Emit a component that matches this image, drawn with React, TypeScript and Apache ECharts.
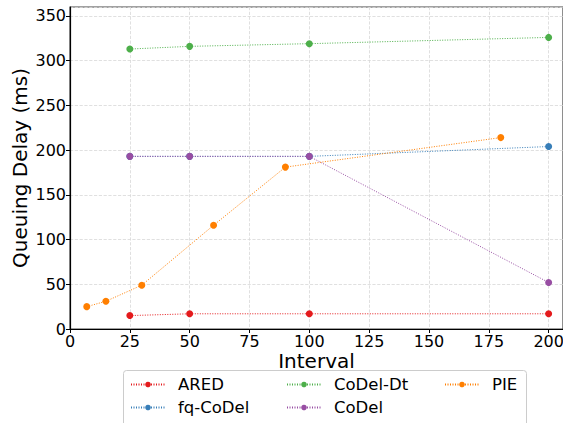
import React, { useEffect, useRef } from "react";
import * as echarts from "echarts";

const aredX = [25, 50, 100, 200];
const aredY = [15, 17, 17, 17];
const fqX = [25, 50, 100, 200];
const fqY = [193, 193, 193, 204];
const dtX = [25, 50, 100, 200];
const dtY = [313, 316, 319, 326];
const codelX = [25, 50, 100, 200];
const codelY = [193, 193, 193, 52];
const pieX = [7, 15, 30, 60, 90, 180];
const pieY = [25, 31, 49, 116, 181, 214];

const names = ["ARED", "fq-CoDel", "CoDel-Dt", "CoDel", "PIE"];
const colors = ["#e41a1c", "#377eb8", "#4daf4a", "#984ea3", "#ff7f00"];
const xs = [aredX, fqX, dtX, codelX, pieX];
const ys = [aredY, fqY, dtY, codelY, pieY];

const FONT = "DejaVu Sans";

export default function App() {
  const ref = useRef<HTMLDivElement>(null);
  useEffect(() => {
    if (!ref.current) return;
    const chart = echarts.init(ref.current, null, { renderer: "svg" });
    const series = names.map((n, i) => ({
      name: n,
      type: "line",
      data: xs[i].map((x, j) => [x, ys[i][j]]),
      symbol: "circle",
      symbolSize: 7,
      itemStyle: { color: colors[i] },
      lineStyle: { color: colors[i], width: 1, type: [1, 1.5] },
      z: 3,
    }));
    const legendCommon = {
      orient: "vertical",
      itemWidth: 34,
      itemHeight: 7,
      itemGap: 6,
      padding: 0,
      height: 60,
      textStyle: { fontFamily: FONT, fontSize: 16.5, color: "#000", padding: [0, 0, 0, 8] },
      top: 376,
    };
    chart.setOption({
      animation: false,
      grid: {
        left: 70,
        top: 7,
        right: 0,
        bottom: 94,
        outerBoundsMode: "none",
        containLabel: false,
        show: true,
        borderColor: "#444",
        borderWidth: 1.2,
      },
      xAxis: {
        type: "value",
        min: 0,
        max: 206,
        interval: 25,
        name: "Interval",
        nameLocation: "middle",
        nameGap: 23,
        nameMoveOverlap: false,
        nameTextStyle: { fontFamily: FONT, fontSize: 20, color: "#000", lineHeight: 18 },
        axisLine: { lineStyle: { color: "#000", width: 1.2 } },
        axisTick: { show: true, length: 4, lineStyle: { color: "#000" } },
        axisLabel: {
          fontFamily: FONT,
          fontSize: 16,
          lineHeight: 14,
          color: "#000",
          margin: 5,
          showMaxLabel: false,
        },
        splitLine: { show: true, lineStyle: { color: "#d8d8d8", type: "dashed", width: 0.8 } },
      },
      yAxis: {
        type: "value",
        min: 0,
        max: 360,
        interval: 50,
        name: "Queuing Delay (ms)",
        nameLocation: "middle",
        nameGap: 40,
        nameMoveOverlap: false,
        nameTextStyle: { fontFamily: FONT, fontSize: 20, color: "#000" },
        axisLine: { show: true, lineStyle: { color: "#000", width: 1.2 } },
        axisTick: { show: true, length: 4, lineStyle: { color: "#000" } },
        axisLabel: {
          fontFamily: FONT,
          fontSize: 16,
          color: "#000",
          margin: 4,
          showMaxLabel: false,
        },
        splitLine: { show: true, lineStyle: { color: "#d8d8d8", type: "dashed", width: 0.8 } },
      },
      legend: [
        { ...legendCommon, left: 130, data: ["ARED", "fq-CoDel"] },
        { ...legendCommon, left: 286, data: ["CoDel-Dt", "CoDel"] },
        { ...legendCommon, left: 444, data: ["PIE"] },
      ],
      graphic: [
        {
          type: "rect",
          shape: { x: 123.5, y: 370.5, width: 403, height: 60, r: 3 },
          style: { fill: "#fff", stroke: "#cccccc", lineWidth: 1 },
          z: -1,
          silent: true,
        },
      ],
      series,
    });
    return () => chart.dispose();
  }, []);
  return (
    <div
      ref={ref}
      style={{ position: "fixed", left: 0, top: 0, width: 563, height: 423, background: "#fff" }}
    />
  );
}
